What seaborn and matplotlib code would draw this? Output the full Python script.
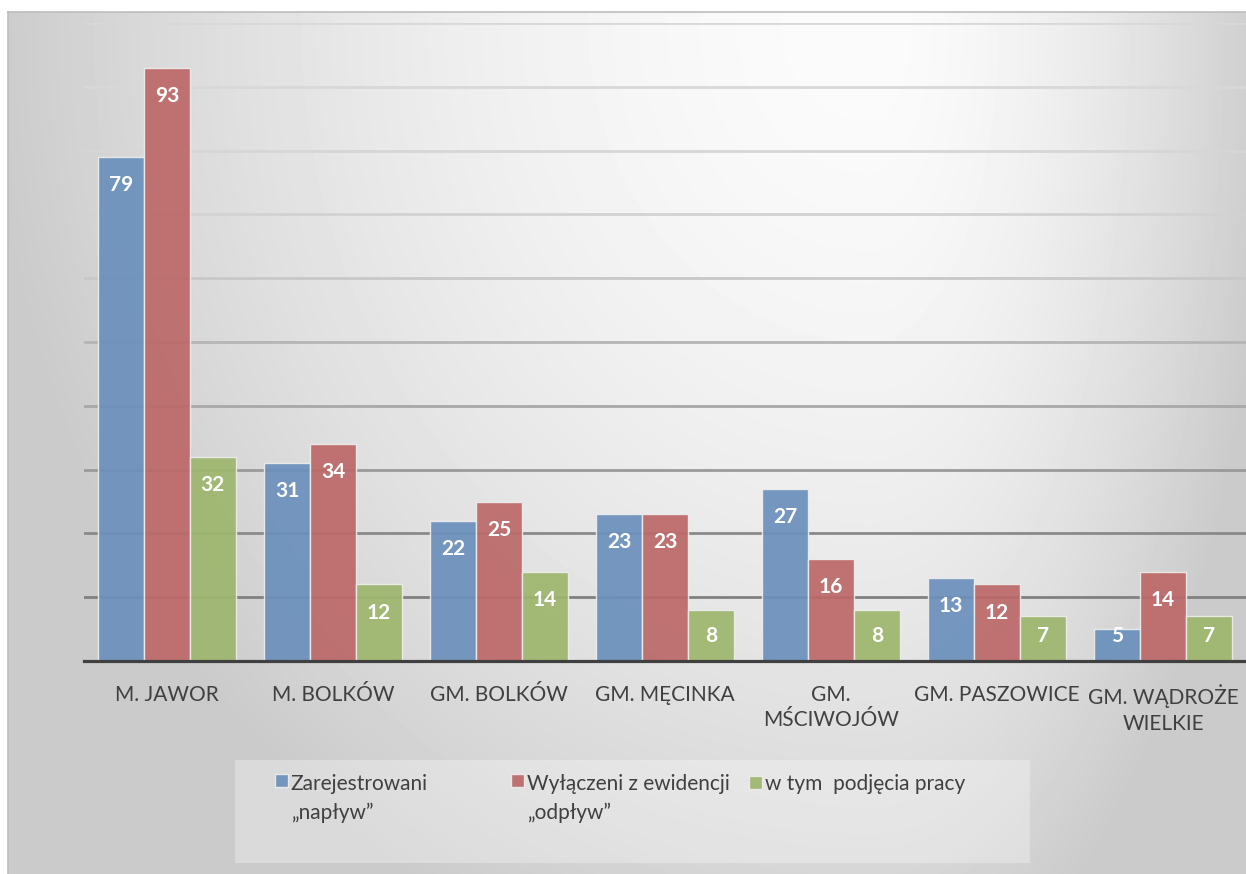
import numpy as np
import pandas as pd
import matplotlib.pyplot as plt
import seaborn as sns
from matplotlib.patches import Rectangle
from matplotlib.legend_handler import HandlerPatch

# dane
gminy = ['M. JAWOR', 'M. BOLKÓW', 'GM. BOLKÓW', 'GM. MĘCINKA', 'GM.\nMŚCIWOJÓW',
         'GM. PASZOWICE', 'GM. WĄDROŻE\nWIELKIE']
serie = ['Zarejestrowani\n„napływ”', 'Wyłączeni z ewidencji\n„odpływ”', 'w tym  podjęcia pracy']
naplyw = [79, 31, 22, 23, 27, 13, 5]
odplyw = [93, 34, 25, 23, 16, 12, 14]
praca = [32, 12, 14, 8, 8, 7, 7]
kolory = ['#5e8fca', '#ca5b5a', '#a2c262']

df = pd.DataFrame({
    'gmina': gminy * 3,
    'seria': np.repeat(serie, len(gminy)),
    'liczba': naplyw + odplyw + praca,
})

sns.set_style('white')
plt.rcParams['font.family'] = ['Lato', 'DejaVu Sans']

W, H = 1246, 874
fig = plt.figure(figsize=(W / 100, H / 100), dpi=100)

# tło z gradientem (jasne u góry, szare przy krawędziach)
bg = fig.add_axes([8 / W, 0, 1 - 8 / W, (H - 12) / H], zorder=-10)
yy, xx = np.mgrid[12:H, 8:W]
sx = np.where(xx < 870, 880, 400)
r = np.sqrt(((xx - 870) / sx) ** 2 + ((yy - 20) / 1000) ** 2)
val = 251 - 48 * np.clip(r, 0, 1) ** 1.7
bg.imshow(val, cmap='gray', vmin=0, vmax=255, aspect='auto', interpolation='bilinear')
bg.set_xticks([])
bg.set_yticks([])
for s in ['right', 'bottom']:
    bg.spines[s].set_visible(False)
for s in ['top', 'left']:
    bg.spines[s].set_color('#bdbdbd')
    bg.spines[s].set_linewidth(1.2)

# wykres
ax = fig.add_axes([84 / W, 213 / H, 1 - 84 / W, 638 / H])
ax.patch.set_alpha(0)
sns.barplot(data=df, x='gmina', y='liczba', hue='seria', palette=kolory,
            width=0.83, gap=0, alpha=0.93, edgecolor='#ededed', linewidth=1,
            errorbar=None, ax=ax)

ax.set_ylim(0, 100)
ax.set_yticks(range(0, 101, 10))
ax.set_yticklabels([])
ax.tick_params(axis='both', length=0)
ax.tick_params(axis='x', pad=17, labelsize=15, labelcolor='#404040')
for t in ax.get_xticklabels():
    t.set_linespacing(1.35)
ax.set_xlabel('')
ax.set_ylabel('')
ax.set_xlim(-0.5, len(gminy) - 0.5)

ax.set_axisbelow(True)
ax.grid(axis='y', linewidth=2)
szarosci = [128, 128, 138, 154, 168, 181, 200, 210, 214, 216, 216]
for gl, g in zip(ax.get_ygridlines(), szarosci):
    gl.set_color((g / 255, g / 255, g / 255))

for s in ['top', 'right', 'left']:
    ax.spines[s].set_visible(False)
ax.spines['bottom'].set_color('#404040')
ax.spines['bottom'].set_linewidth(2.3)

# etykiety wartości
for cont in ax.containers:
    for bar in cont:
        h = bar.get_height()
        ax.text(bar.get_x() + bar.get_width() / 2, max(h - 4.4, 3.9), f'{h:.0f}',
                ha='center', va='center', color='white', fontweight='bold', fontsize=15)

# legenda
handles, labels = ax.get_legend_handles_labels()
ax.get_legend().remove()

fig.patches.append(Rectangle((235 / W, 11 / H), 795 / W, 103 / H, transform=fig.transFigure,
                             facecolor='white', alpha=0.3, edgecolor='none', zorder=-5))


def kwadrat(shift):
    def f(legend, orig_handle, xdescent, ydescent, width, height, fontsize):
        return Rectangle((-xdescent, -ydescent + shift), width, height)
    return f


pozycje = [275, 511, 749]
for h, l, x in zip(handles, labels, pozycje):
    nlin = l.count('\n')
    leg = fig.legend([h], [l], loc='upper left', bbox_to_anchor=(x / W, (H - 774) / H),
                     frameon=False, fontsize=15, handlelength=0.6, handleheight=0.6,
                     handletextpad=0.15, borderpad=0, borderaxespad=0,
                     labelcolor='#404040',
                     handler_map={h: HandlerPatch(patch_func=kwadrat(nlin * 13))})
    for t in leg.get_texts():
        t.set_linespacing(1.5)

fig.savefig('out.png', dpi=100)
